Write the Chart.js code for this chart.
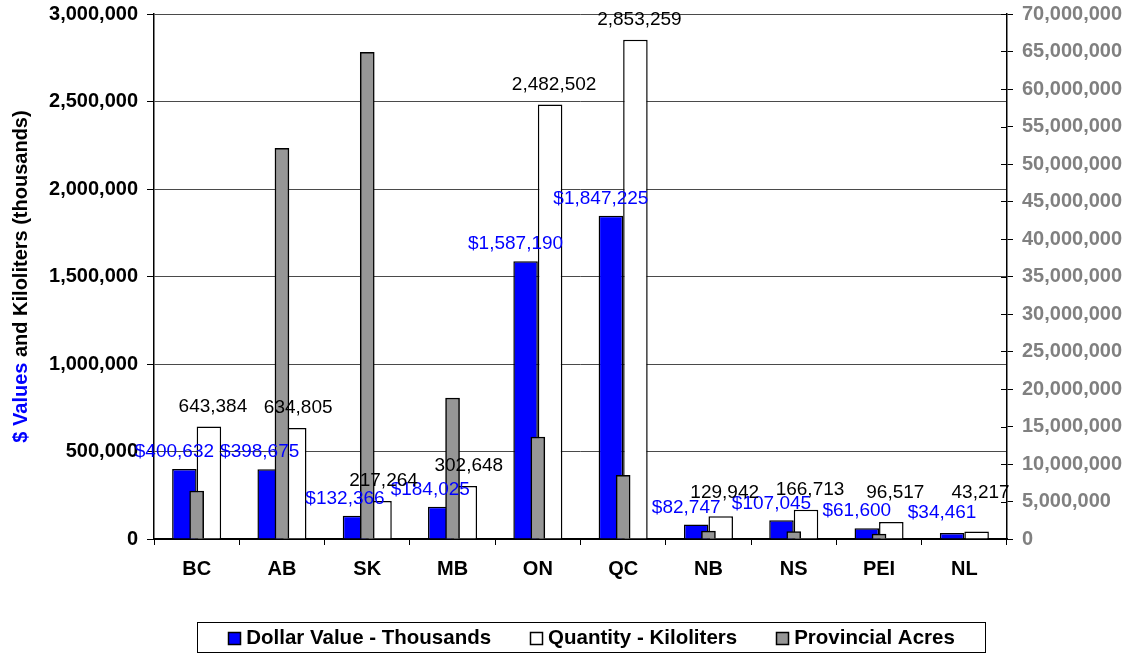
<!DOCTYPE html>
<html>
<head>
<meta charset="utf-8">
<script src="https://cdn.jsdelivr.net/npm/chart.js@4.4.1/dist/chart.umd.min.js"></script>
<style>
  html, body { margin: 0; padding: 0; background: #ffffff; }
  #wrap { width: 1135px; height: 656px; }
</style>
</head>
<body>
<div id="wrap"><canvas id="chart" width="1135" height="656"></canvas></div>
<script>
// Provinces along the category axis
const provinces = ['BC', 'AB', 'SK', 'MB', 'ON', 'QC', 'NB', 'NS', 'PEI', 'NL'];
// Dollar value, thousands (left axis)
const dollarValues = [400632, 398675, 132366, 184025, 1587190, 1847225, 82747, 107045, 61600, 34461];
// Quantity, kiloliters (left axis)
const quantityKl = [643384, 634805, 217264, 302648, 2482502, 2853259, 129942, 166713, 96517, 43217];
// Provincial acres (right axis)
const provincialAcres = [6400000, 52100000, 64900000, 18800000, 13600000, 8500000, 1050000, 1000000, 650000, 0];
// Axis ranges
const leftAxisMax = 3000000, leftAxisStep = 500000;
const rightAxisMax = 70000000, rightAxisStep = 5000000;

const FONT = "'Liberation Sans', Arial, Helvetica, sans-serif";
const fmt = v => Number(v).toLocaleString('en-US');

// Value labels above the dollar and quantity bars
const valueLabels = {
  id: 'valueLabels',
  afterDatasetsDraw(chart) {
    const ctx = chart.ctx;
    const bottom = chart.chartArea.bottom;
    ctx.save();
    ctx.font = '19px ' + FONT;
    ctx.textAlign = 'center';
    ctx.textBaseline = 'middle';
    const specs = [
      { ds: 0, color: '#0000ff', text: v => '$' + fmt(v), dx: -10, lift: 17, floor: bottom - 26 },
      { ds: 1, color: '#000000', text: v => fmt(v), dx: 4, lift: 20, floor: bottom - 46 }
    ];
    specs.forEach(s => {
      const meta = chart.getDatasetMeta(s.ds);
      const values = chart.data.datasets[s.ds].data;
      meta.data.forEach((bar, i) => {
        ctx.fillStyle = s.color;
        ctx.fillText(s.text(values[i]), bar.x + s.dx, Math.min(bar.y - s.lift, s.floor));
      });
    });
    ctx.restore();
  }
};

// Axis title, inner tick marks on the right axis and the boxed legend
const decorations = {
  id: 'decorations',
  afterDraw(chart) {
    const ctx = chart.ctx;
    const area = chart.chartArea;
    ctx.save();

    // right axis: tick marks crossing into the plot
    const r = chart.scales.y2;
    ctx.strokeStyle = '#000';
    ctx.lineWidth = 1;
    r.ticks.forEach(t => {
      const y = Math.round(r.getPixelForValue(t.value)) + 0.5;
      ctx.beginPath();
      ctx.moveTo(area.right - 6, y);
      ctx.lineTo(area.right, y);
      ctx.stroke();
    });

    // left axis title, two colours
    ctx.font = 'bold 20px ' + FONT;
    ctx.textBaseline = 'middle';
    ctx.textAlign = 'left';
    const partA = '$ Values', partB = ' and Kiloliters (thousands)';
    const wA = ctx.measureText(partA).width, wB = ctx.measureText(partB).width;
    ctx.translate(21, (area.top + area.bottom) / 2);
    ctx.rotate(-Math.PI / 2);
    const x0 = -(wA + wB) / 2;
    ctx.fillStyle = '#0000ff';
    ctx.fillText(partA, x0, 0);
    ctx.fillStyle = '#000000';
    ctx.fillText(partB, x0 + wA, 0);
    ctx.setTransform(1, 0, 0, 1, 0, 0);

    // legend box
    const box = { left: 197.5, top: 622.5, right: 985.5, bottom: 652.5 };
    ctx.strokeStyle = '#000';
    ctx.lineWidth = 1;
    ctx.strokeRect(box.left, box.top, box.right - box.left, box.bottom - box.top);
    ctx.font = 'bold 20.5px ' + FONT;
    const sw = 12, gapText = 6, gapItem = 39;
    const items = chart.data.datasets.map(d => ({ label: d.label, fill: d.backgroundColor, w: sw + gapText + ctx.measureText(d.label).width }));
    const total = items.reduce((a, it) => a + it.w, 0) + gapItem * (items.length - 1);
    let x = (box.left + box.right) / 2 - total / 2;
    const cy = (box.top + box.bottom) / 2;
    items.forEach(it => {
      ctx.fillStyle = it.fill;
      ctx.fillRect(Math.round(x) + 0.5, Math.round(cy - sw / 2) + 0.5, sw, sw);
      ctx.strokeStyle = '#000';
      ctx.lineWidth = 1.5;
      ctx.strokeRect(Math.round(x) + 0.5, Math.round(cy - sw / 2) + 0.5, sw, sw);
      ctx.fillStyle = '#000';
      ctx.textAlign = 'left';
      ctx.textBaseline = 'middle';
      ctx.fillText(it.label, x + sw + gapText, cy + 1);
      x += it.w + gapItem;
    });
    ctx.restore();
  }
};

const tickFont = { family: FONT, size: 20, weight: 'bold' };

// Fixed axis widths so the plot spans the intended region
function fixVertical(width) {
  return s => { s.width = width; s.paddingTop = 0; s.paddingBottom = 0; };
}

new Chart(document.getElementById('chart').getContext('2d'), {
  type: 'bar',
  data: {
    labels: provinces,
    datasets: [
      {
        label: 'Dollar Value - Thousands',
        data: dollarValues,
        yAxisID: 'y',
        backgroundColor: '#0000ff',
        borderColor: '#000000',
        borderWidth: 1.5,
        borderSkipped: 'start',
        categoryPercentage: 0.575,
        barPercentage: 1
      },
      {
        label: 'Quantity - Kiloliters',
        data: quantityKl,
        yAxisID: 'y',
        backgroundColor: '#ffffff',
        borderColor: '#000000',
        borderWidth: 1.5,
        borderSkipped: 'start',
        categoryPercentage: 0.575,
        barPercentage: 1
      },
      {
        label: 'Provincial Acres',
        data: provincialAcres,
        yAxisID: 'y2',
        backgroundColor: '#969696',
        borderColor: '#000000',
        borderWidth: 1.5,
        borderSkipped: 'start',
        grouped: false,
        barThickness: 14,
        order: -1
      }
    ]
  },
  options: {
    responsive: false,
    animation: false,
    devicePixelRatio: 1,
    layout: { padding: { top: 14, bottom: 72, left: 0, right: 0 } },
    plugins: {
      legend: { display: false },
      tooltip: { enabled: false }
    },
    scales: {
      x: {
        grid: { offset: true, drawOnChartArea: false, color: '#000', tickLength: 6, lineWidth: 1 },
        border: { color: '#000', width: 2 },
        ticks: { font: tickFont, color: '#000', padding: 12, maxRotation: 0, autoSkip: false },
        afterFit(s) { s.height = 45; s.paddingLeft = 0; s.paddingRight = 0; }
      },
      y: {
        position: 'left',
        min: 0,
        max: leftAxisMax,
        ticks: { stepSize: leftAxisStep, callback: v => fmt(v), font: tickFont, color: '#000', padding: 9 },
        grid: { color: '#4a4a4a', tickColor: '#000', tickLength: 7, lineWidth: 1 },
        border: { color: '#000', width: 1.5 },
        afterFit: fixVertical(154)
      },
      y2: {
        position: 'right',
        min: 0,
        max: rightAxisMax,
        ticks: { stepSize: rightAxisStep, callback: v => fmt(v), font: tickFont, color: '#808080', padding: 9 },
        grid: { drawOnChartArea: false, tickColor: '#000', tickLength: 6, lineWidth: 1 },
        border: { color: '#000', width: 1.5 },
        afterFit: fixVertical(128)
      }
    }
  },
  plugins: [valueLabels, decorations]
});
</script>
</body>
</html>
